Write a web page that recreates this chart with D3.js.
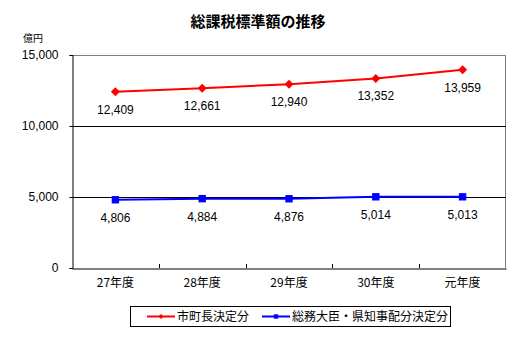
<!DOCTYPE html>
<html><head><meta charset="utf-8">
<script src="https://cdn.jsdelivr.net/npm/d3@7"></script>
<style>body{margin:0;background:#fff}text{font-family:"Noto Sans CJK JP","Noto Sans",sans-serif}</style>
</head><body>
<svg id="c" width="528" height="342"></svg>
<script>
const categories = ["27年度","28年度","29年度","30年度","元年度"];
const cityValues = [12409,12661,12940,13352,13959];
const ministerValues = [4806,4884,4876,5014,5013];
const yTicks = [0,5000,10000,15000];
const seriesNames = ["市町長決定分","総務大臣・県知事配分決定分"];

const svg = d3.select("#c");
const L=72, R=506, T=55, B=268;
const x = d3.scaleBand().domain(categories).range([L,R]);
const y = d3.scaleLinear().domain([0,15000]).range([B,T]);
const fmt = d3.format(",");

svg.append("text").attr("x",258).attr("y",27).attr("text-anchor","middle")
  .attr("font-size",15).attr("font-weight","bold").text("総課税標準額の推移");
svg.append("text").attr("x",23).attr("y",42).attr("font-size",10).text("億円");

svg.append("line").attr("x1",L).attr("x2",R).attr("y1",T+0.5).attr("y2",T+0.5).attr("stroke","#808080");
svg.append("line").attr("x1",R-0.5).attr("x2",R-0.5).attr("y1",T).attr("y2",B).attr("stroke","#808080");
yTicks.filter(d=>d>0 && d<15000).forEach(d=>{
  svg.append("line").attr("x1",L).attr("x2",R).attr("y1",Math.round(y(d))+0.5).attr("y2",Math.round(y(d))+0.5).attr("stroke","#000");
});
const ya = svg.append("g").attr("transform",`translate(${L+0.5},0)`)
  .call(d3.axisLeft(y).tickValues(yTicks).tickFormat(fmt).tickSize(3).tickPadding(11));
ya.select(".domain").attr("stroke","#000");
ya.selectAll("text").attr("font-size",12).attr("fill","#000").style("font-family","'Liberation Sans',Arial,sans-serif");
ya.selectAll(".tick line").attr("stroke","#000");
const xa = svg.append("g").attr("transform",`translate(0,${B+0.5})`)
  .call(d3.axisBottom(x).tickSize(0).tickPadding(10));
xa.select(".domain").attr("stroke","#000");
xa.selectAll("text").attr("font-size",12).attr("fill","#000");
categories.slice(1).forEach(c=>{
  svg.append("line").attr("x1",Math.round(x(c))+0.5).attr("x2",Math.round(x(c))+0.5).attr("y1",B-4).attr("y2",B).attr("stroke","#000");
});

const diamond = r => `M0,${-r}L${r},0L0,${r}L${-r},0Z`;
const square = r => `M${-r},${-r}H${r}V${r}H${-r}Z`;
const cx = d=>x(d)+x.bandwidth()/2;
const line = d3.line().x((d,i)=>cx(categories[i])).y(d=>y(d));
function drawSeries(vals,color,shape,r,off){
  svg.append("path").datum(vals).attr("d",line).attr("fill","none").attr("stroke",color).attr("stroke-width",2);
  svg.selectAll(null).data(vals).enter().append("path")
    .attr("transform",(d,i)=>`translate(${cx(categories[i])},${y(d)})`)
    .attr("d",shape(r)).attr("fill",color);
  svg.selectAll(null).data(vals).enter().append("text")
    .attr("x",(d,i)=>cx(categories[i])).attr("y",d=>y(d)+off).attr("text-anchor","middle")
    .attr("font-size",12).style("font-family","'Liberation Sans',Arial,sans-serif").text(fmt);
}
drawSeries(cityValues,"#ff0000",diamond,4.5,22);
drawSeries(ministerValues,"#0000ff",square,3.7,22);

const lg = svg.append("g");
lg.append("rect").attr("x",130.5).attr("y",306.5).attr("width",320).attr("height",20).attr("fill","#fff").attr("stroke","#000");
const items=[{c:"#ff0000",s:diamond,x:147,n:seriesNames[0],r:2.5},{c:"#0000ff",s:square,x:262,n:seriesNames[1],r:2.2}];
items.forEach(it=>{
  lg.append("line").attr("x1",it.x).attr("x2",it.x+28).attr("y1",316.5).attr("y2",316.5).attr("stroke",it.c).attr("stroke-width",2);
  lg.append("path").attr("transform",`translate(${it.x+14},316.5)`).attr("d",it.s(it.r)).attr("fill",it.c);
  lg.append("text").attr("x",it.x+30).attr("y",321).attr("font-size",12).text(it.n);
});
</script>
</body></html>
